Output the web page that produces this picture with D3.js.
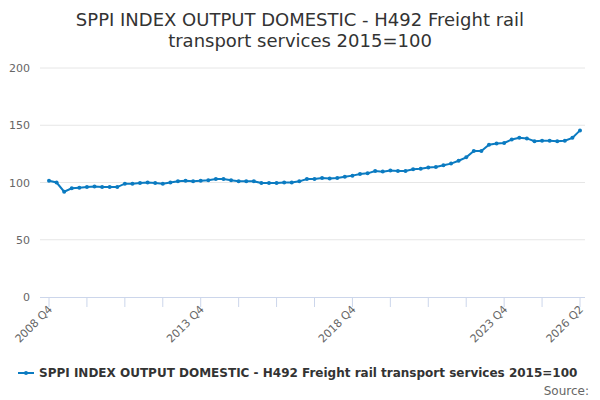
<!DOCTYPE html>
<html><head><meta charset="utf-8">
<script src="https://cdn.jsdelivr.net/npm/d3@7"></script>
<style>body{margin:0;font-family:"DejaVu Sans",sans-serif;background:#fff}</style>
</head><body><svg id="chart" width="600" height="400"></svg>
<script>
var values = [101.5,100,92,95,95.5,96,96.5,96,96,96, 99,99,99.5,100,99.5,99,100,101,101.5,101,
  101.5,102,103,103,102,101,101,101,99.5,99.5, 99.5,100,100,101,103,103,104,103.5,104,105,
  106,107.5,108,110,109.5,110.5,110,110,111.5,112, 113,113.5,115,116.5,119,122,127.5,127.5,133,134,
  134.5,137.5,139,138.5,136,136.5,136.5,136,136.5,139,145.5];
var startYear = 2008, startQ = 4;
var yTicks = [0,50,100,150,200];
var labelIdx = [0,20,40,60,70];

function qLabel(i) {
    var q = startQ - 1 + i;
    return (startYear + Math.floor(q/4)) + ' Q' + (q%4 + 1);
}

var svg = d3.select('#chart');
var x = d3.scaleLinear().domain([0, values.length-1]).range([49, 580]);
var y = d3.scaleLinear().domain([0, 200]).range([297, 68]);
var color = '#0b7bc1';

svg.append('text').attr('x', 300).attr('y', 26).attr('text-anchor', 'middle')
    .style('font-size', '18px').attr('fill', '#333').text('SPPI INDEX OUTPUT DOMESTIC - H492 Freight rail');
svg.append('text').attr('x', 300).attr('y', 47).attr('text-anchor', 'middle')
    .style('font-size', '18px').attr('fill', '#333').text('transport services 2015=100');

svg.selectAll('line.grid').data(yTicks.slice(1)).enter().append('line')
    .attr('x1', 40).attr('x2', 585).attr('y1', y).attr('y2', y)
    .attr('stroke', '#e6e6e6');
svg.selectAll('text.yl').data(yTicks).enter().append('text')
    .attr('x', 30).attr('y', function(d){ return y(d) + 4; }).attr('text-anchor', 'end')
    .style('font-size', '11px').attr('fill', '#666').text(function(d){ return d; });

svg.append('line').attr('x1', 40).attr('x2', 585).attr('y1', 297.5).attr('y2', 297.5).attr('stroke', '#ccd6eb');
var tickIdx = d3.range(0, values.length, 5);
svg.selectAll('line.xt').data(tickIdx).enter().append('line')
    .attr('x1', function(d){ return x(d); }).attr('x2', function(d){ return x(d); })
    .attr('y1', 297).attr('y2', 307).attr('stroke', '#ccd6eb');
svg.selectAll('text.xl').data(labelIdx).enter().append('text')
    .attr('text-anchor', 'end')
    .attr('transform', function(d){ return 'translate(' + (x(d) + 4) + ',310) rotate(-45)'; })
    .style('font-size', '11px').attr('fill', '#666').text(qLabel);

var line = d3.line().x(function(d, i){ return x(i); }).y(function(d){ return y(d); });
svg.append('path').datum(values).attr('d', line).attr('fill', 'none')
    .attr('stroke', color).attr('stroke-width', 2);
svg.selectAll('circle').data(values).enter().append('circle')
    .attr('cx', function(d, i){ return x(i); }).attr('cy', y).attr('r', 2).attr('fill', color);

svg.append('line').attr('x1', 18).attr('x2', 34).attr('y1', 373).attr('y2', 373).attr('stroke', color).attr('stroke-width', 2);
svg.append('circle').attr('cx', 26).attr('cy', 373).attr('r', 2).attr('fill', color);
svg.append('text').attr('x', 39).attr('y', 377).style('font-size', '12px').style('font-weight', 'bold')
    .attr('fill', '#333').text('SPPI INDEX OUTPUT DOMESTIC - H492 Freight rail transport services 2015=100');
svg.append('text').attr('x', 589).attr('y', 395).attr('text-anchor', 'end').style('font-size', '12px')
    .attr('fill', '#666').text('Source:');
</script></body></html>
